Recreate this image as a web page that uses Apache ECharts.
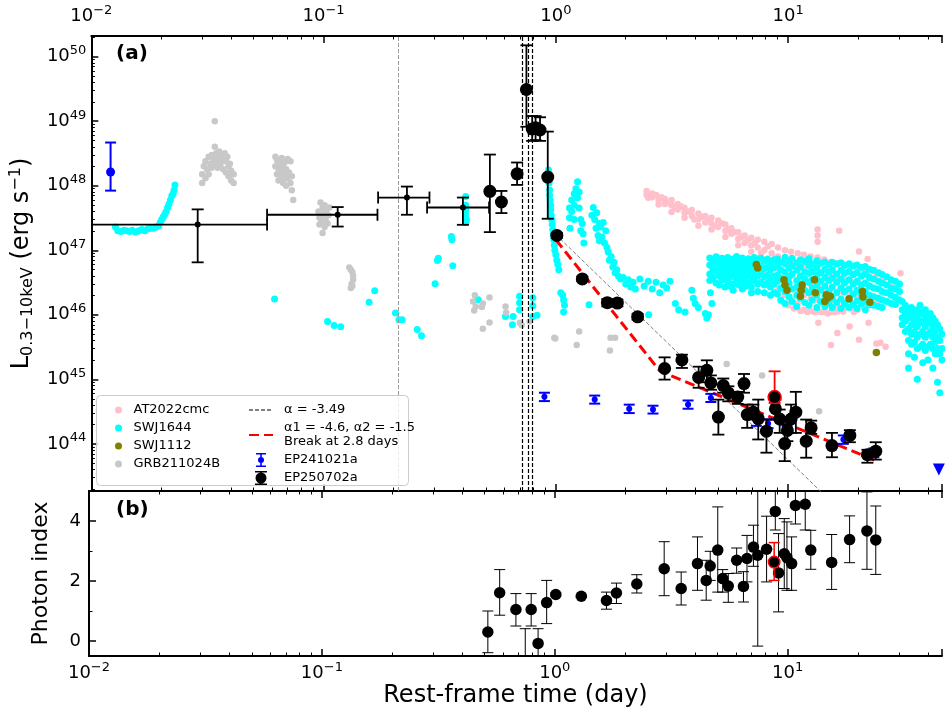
<!DOCTYPE html>
<html><head><meta charset="utf-8">
<script src="https://cdn.jsdelivr.net/npm/echarts@6/dist/echarts.min.js"></script>
<style>html,body{margin:0;padding:0;background:#fff}#c{width:945px;height:712px}</style>
</head><body><div id="c"></div>
<script>
// ---------------- data ----------------
const atCmc = [[2.46,8.3e47],[2.46,7.2e47],[2.5,6.5e47],[2.6,7.6e47],[2.6,6.6e47],[2.7,7.2e47],[2.77,6.0e47],[2.77,5.1e47],[2.85,6.6e47],[2.95,6.2e47],[2.95,5.2e47],[3.05,5.6e47],[3.15,6.0e47],[3.15,5.0e47],[3.15,3.9e47],[3.25,4.6e47],[3.35,5.2e47],[3.35,4.3e47],[3.45,4.8e47],[3.58,4.55e47],[3.58,3.8e47],[3.58,3.2e47],[3.7,4.0e47],[3.85,4.2e47],[3.85,3.4e47],[3.95,3.0e47],[4.11,3.7e47],[4.11,3.0e47],[4.11,2.4e47],[4.25,3.3e47],[4.4,3.4e47],[4.4,2.7e47],[4.55,2.9e47],[4.68,3.2e47],[4.68,2.6e47],[4.68,2.1e47],[4.85,2.4e47],[5.0,2.9e47],[5.0,2.3e47],[5.2,2.6e47],[5.37,2.5e47],[5.37,2.0e47],[5.37,1.6e47],[5.55,2.1e47],[5.7,2.2e47],[5.7,1.8e47],[5.9,1.9e47],[6.1,1.9e47],[6.1,1.5e47],[6.1,1.2e47],[6.3,1.6e47],[6.5,1.7e47],[6.5,1.3e47],[6.7,1.45e47],[6.94,1.56e47],[6.94,1.2e47],[6.94,9.5e46],[7.2,1.3e47],[7.4,1.45e47],[7.4,1.1e47],[7.4,7.5e46],[7.65,9e46],[7.9,1.35e47],[7.9,1.0e47],[7.9,7e46],[7.9,5e46],[8.2,1.15e47],[8.5,1.25e47],[8.5,9e46],[8.5,6e46],[8.5,4e46],[8.8,7.5e46],[9.05,1.1e47],[9.05,8e46],[9.05,5e46],[9.05,3.5e46],[9.05,2.5e46],[9.4,1.6e46],[9.7,1.0e47],[9.7,7e46],[9.7,4.5e46],[9.7,3e46],[9.7,2e46],[10.0,1.4e46],[10.3,9.5e46],[10.3,6.5e46],[10.3,4e46],[10.3,2.5e46],[10.3,1.7e46],[10.6,1.25e46],[11,9e46],[11,6e46],[11,3.5e46],[11,2.2e46],[11,1.5e46],[11.3,1.15e46],[11.7,8.5e46],[11.7,5.5e46],[11.7,3.2e46],[11.7,2e46],[11.7,1.2e46],[12.1,1.1e46],[12.5,8e46],[12.5,5e46],[12.5,3e46],[12.5,1.8e46],[12.5,1.15e46],[13.0,1.1e46],[13.4,7.7e46],[13.4,4.8e46],[13.4,2.8e46],[13.4,1.7e46],[13.4,1.12e46],[13.4,2.1e47],[13.4,1.7e47],[13.4,1.35e47],[13.5,7.5e45],[13.9,1.1e46],[14.3,7.2e46],[14.3,4.5e46],[14.3,2.6e46],[14.3,1.5e46],[14.3,1.1e46],[14.8,1.05e46],[15.3,6.6e46],[15.3,4.2e46],[15.3,2.5e46],[15.3,1.5e46],[15.3,1.1e46],[15.3,3.4e45],[15.8,1.1e46],[16.3,6.3e46],[16.3,4e46],[16.3,2.3e46],[16.3,1.4e46],[16.3,1.12e46],[16.3,5.2e45],[16.6,2.0e47],[17.3,6.0e46],[17.3,3.8e46],[17.3,2.2e46],[17.3,1.3e46],[17.3,1.12e46],[18.4,6.6e45],[18.5,5.6e46],[18.5,3.5e46],[18.5,2e46],[18.5,1.3e46],[19.2,1.1e46],[19.9,5.4e46],[19.9,3.3e46],[19.9,1.9e46],[19.9,1.2e46],[20.2,9.6e46],[20.2,4.1e45],[21.2,5.0e46],[21.2,3e46],[21.2,1.8e46],[21.2,1.3e46],[22,7.3e46],[22.2,7.5e45],[22.6,4.65e46],[22.6,2.8e46],[22.6,1.7e46],[22.6,1.4e46],[24,4.2e46],[24,2.5e46],[24,1.6e46],[24,3.6e45],[25,3.7e45],[25.7,3.5e46],[25.7,2.2e46],[25.7,1.7e46],[26.3,3.2e45],[27.5,3.0e46],[27.5,2.2e46],[29.5,2.9e46],[30.5,4.4e46]];

const swj1644 = [[0.0127,2.3e47],[0.013,2.0e47],[0.0134,1.95e47],[0.0138,2.05e47],[0.0142,2.0e47],[0.0146,1.95e47],[0.015,2.05e47],[0.0155,1.9e47],[0.016,2.0e47],[0.0165,2.1e47],[0.017,2.0e47],[0.0175,2.15e47],[0.018,2.2e47],[0.0185,2.2e47],[0.019,2.3e47],[0.0195,2.4e47],[0.0198,2.7e47],[0.0201,3.0e47],[0.0204,3.3e47],[0.0207,3.6e47],[0.021,4.0e47],[0.0213,4.6e47],[0.0216,5.2e47],[0.0219,6.0e47],[0.0222,7.0e47],[0.0225,7.5e47],[0.0227,8.5e47],[0.0229,1.03e48],
[0.0615,1.76e46],[0.104,7.9e45],[0.111,6.8e45],[0.1185,6.5e45],[0.157,1.56e46],[0.166,2.36e46],[0.204,1.07e46],[0.211,8.4e45],[0.218,8.4e45],[0.253,5.9e45],[0.264,4.75e45],[0.302,3.03e46],[0.309,6.95e46],[0.312,7.5e46],[0.36,5.75e46],[0.355,1.64e47],[0.357,1.45e47],[0.409,6.8e47],[0.409,5.0e47],[0.41,4.2e47],[0.409,3.5e47],[0.412,2.95e47],[0.409,2.7e47],[0.463,1.71e46],[0.698,1.93e46],[0.698,1.54e46],[0.698,1.2e46],[0.655,9.4e45],[0.607,9.4e45],[0.65,7.0e45],[0.796,1.84e46],[0.796,1.38e46],[0.796,9.4e45],[0.83,9.8e45],
[0.93,1.75e48],[0.93,1.4e48],[0.935,1.1e48],[0.94,8.6e47],[0.94,7.2e47],[0.945,6e47],[0.95,5e47],[0.95,4.2e47],[0.955,3.5e47],[0.96,3e47],[0.965,2.5e47],[0.97,2.1e47],[0.975,1.75e47],[0.98,1.45e47],[0.985,1.2e47],[0.99,1.0e47],[1.0,8.5e46],[1.01,7e46],[1.02,6e46],[1.03,5e46],[1.05,2.2e46],[1.07,2.0e46],[1.08,1.7e46],[1.09,1.4e46],[1.08,1.1e46],[1.39,1.43e46],
[1.145,4.5e47],[1.145,3.2e47],[1.15,2.2e47],[1.17,6e47],[1.17,4e47],[1.2,7.5e47],[1.2,5e47],[1.2,3e47],[1.22,9e47],[1.24,1.15e48],[1.24,6.5e47],[1.26,8e47],[1.26,4.5e47],[1.28,3e47],[1.28,2e47],[1.3,2.6e47],[1.31,1.8e47],[1.32,1.3e47],
[1.43,3.5e47],[1.45,4.6e47],[1.47,3.0e47],[1.49,2.2e47],[1.5,3.8e47],[1.52,1.7e47],[1.54,2.6e47],[1.54,1.4e47],
[1.56,2.3e47],[1.58,1.6e47],[1.6,2.7e47],[1.62,1.3e47],[1.64,2.0e47],[1.66,1.1e47],
[1.68,9.5e46],[1.7,7e46],[1.73,8e46],[1.76,5.5e46],[1.78,6.5e46],[1.8,4.5e46],[1.83,5e46],[1.86,4e46],[1.9,3.6e46],
[1.95,3.8e46],[2.0,3.0e46],[2.05,3.5e46],[2.1,2.7e46],[2.15,3.2e46],[2.2,2.5e46],
[2.3,3.6e46],[2.4,2.8e46],[2.5,3.3e46],[2.51,1.0e46],[2.6,2.5e46],[2.7,3.2e46],[2.8,2.2e46],[2.9,2.9e46],[3.0,2.6e46],[3.1,3.3e46],
[3.27,1.5e46],[3.38,1.2e46],[3.6,1.1e46],[3.85,2.4e46],[3.91,1.8e46],[3.98,1.5e46],[4.11,1.3e46],[4.4,1.05e46],[4.47,8.9e45],[4.54,1.0e46],[4.63,2.2e46],[4.7,1.5e46],
[4.6,7.6e46],[4.6,5.9e46],[4.6,4.3e46],[4.6,3.4e46],[4.75,6.8e46],[4.75,5.1e46],[4.75,3.8e46],[4.9,7.9e46],[4.9,6.3e46],[4.9,4.7e46],[4.9,3.1e46],[5.05,7.0e46],[5.05,5.4e46],[5.05,4.0e46],[5.05,2.9e46],[5.2,7.5e46],[5.2,5.7e46],[5.2,4.4e46],[5.2,3.5e46],[5.35,6.5e46],[5.35,4.9e46],[5.35,3.7e46],[5.35,2.7e46],[5.5,7.7e46],[5.5,6.0e46],[5.5,4.6e46],[5.5,3.3e46],[5.65,6.9e46],[5.65,5.2e46],[5.65,3.9e46],[5.65,2.8e46],[5.8,7.3e46],[5.8,5.6e46],[5.8,4.2e46],[5.8,3.0e46],[5.8,2.4e46],[6.0,8.0e46],[6.0,6.2e46],[6.0,4.8e46],[6.0,3.6e46],[6.15,7.0e46],[6.15,5.3e46],[6.15,4.0e46],[6.15,2.9e46],[6.35,7.6e46],[6.35,5.8e46],[6.35,4.4e46],[6.35,3.3e46],[6.35,2.5e46],[6.55,6.8e46],[6.55,5.0e46],[6.55,3.8e46],[6.55,2.8e46],[6.75,7.4e46],[6.75,5.6e46],[6.75,4.2e46],[6.75,3.1e46],[6.95,6.6e46],[6.95,5.1e46],[6.95,3.9e46],[6.95,2.7e46],[6.95,2.2e46],[7.15,7.7e46],[7.15,5.9e46],[7.15,4.5e46],[7.15,3.4e46],[7.4,7.0e46],[7.4,5.3e46],[7.4,4.0e46],[7.4,3.0e46],[7.4,2.3e46],[7.65,7.5e46],[7.65,5.7e46],[7.65,4.3e46],[7.65,3.2e46],[7.9,6.8e46],[7.9,5.2e46],[7.9,3.9e46],[7.9,2.9e46],[7.9,2.2e46],[8.15,7.3e46],[8.15,5.5e46],[8.15,4.1e46],[8.15,3.1e46],[8.4,6.6e46],[8.4,5.0e46],[8.4,3.7e46],[8.4,2.7e46],[8.4,2.0e46],[8.7,7.1e46],[8.7,5.4e46],[8.7,4.0e46],[8.7,3.0e46],[8.7,2.2e46],
[9.0,7.3e46],[9.0,5.9e46],[9.0,4.1e46],[9.0,3.3e46],[9.0,2.1e46],[9.3,6.6e46],[9.3,5.0e46],[9.3,3.7e46],[9.3,2.6e46],[9.3,1.7e46],[9.7,7.8e46],[9.7,6.2e46],[9.7,4.6e46],[9.7,2.9e46],[9.7,2.3e46],[9.7,1.5e46],[10.1,6.9e46],[10.1,5.3e46],[10.1,3.9e46],[10.1,3.1e46],[10.1,1.9e46],[10.4,7.5e46],[10.4,5.7e46],[10.4,4.3e46],[10.4,2.5e46],[10.4,1.6e46],[10.9,6.4e46],[10.9,4.9e46],[10.9,3.4e46],[10.9,2.7e46],[10.9,2.0e46],[10.9,1.35e46],[11.3,7.1e46],[11.3,5.5e46],[11.3,4.0e46],[11.3,3.0e46],[11.3,1.8e46],[11.8,6.7e46],[11.8,4.6e46],[11.8,3.6e46],[11.8,2.4e46],[11.8,1.55e46],[12.3,7.4e46],[12.3,5.8e46],[12.3,4.4e46],[12.3,3.2e46],[12.3,2.2e46],[12.3,1.4e46],[12.7,6.2e46],[12.7,4.7e46],[12.7,3.5e46],[12.7,2.6e46],[12.7,1.7e46],[13.3,6.9e46],[13.3,5.4e46],[13.3,4.1e46],[13.3,2.9e46],[13.3,2.0e46],[13.3,1.3e46],[13.8,6.3e46],[13.8,4.5e46],[13.8,3.3e46],[13.8,2.4e46],[13.8,1.6e46],[14.4,6.6e46],[14.4,5.1e46],[14.4,3.8e46],[14.4,2.8e46],[14.4,1.9e46],[14.4,1.35e46],[15.0,6.0e46],[15.0,4.6e46],[15.0,3.4e46],[15.0,2.3e46],[15.0,1.5e46],[15.5,6.5e46],[15.5,5.0e46],[15.5,3.7e46],[15.5,2.7e46],[15.5,1.8e46],[15.5,1.3e46],[16.2,6.1e46],[16.2,4.3e46],[16.2,3.2e46],[16.2,2.2e46],[16.2,1.55e46],[16.9,6.4e46],[16.9,4.9e46],[16.9,3.6e46],[16.9,2.6e46],[16.9,1.75e46],[16.9,1.25e46],[17.5,5.8e46],[17.5,4.4e46],[17.5,3.1e46],[17.5,2.3e46],[17.5,1.5e46],[18.3,6.2e46],[18.3,4.7e46],[18.3,3.5e46],[18.3,2.5e46],[18.3,1.7e46],[18.3,1.3e46],[19.1,5.7e46],[19.1,4.2e46],[19.1,3.0e46],[19.1,2.1e46],[19.1,1.45e46],[19.8,5.9e46],[19.8,4.5e46],[19.8,3.3e46],[19.8,2.4e46],[19.8,1.65e46],[19.8,1.25e46],[20.7,5.4e46],[20.7,4.0e46],[20.7,2.9e46],[20.7,2.1e46],[20.7,1.5e46],[21.5,5.6e46],[21.5,4.3e46],[21.5,3.1e46],[21.5,2.3e46],[21.5,1.6e46],[21.5,1.2e46],[22.4,5.1e46],[22.4,3.8e46],[22.4,2.8e46],[22.4,2.0e46],[22.4,1.45e46],[23.4,4.9e46],[23.4,3.6e46],[23.4,2.6e46],[23.4,1.9e46],[23.4,1.4e46],[24.5,4.5e46],[24.5,3.3e46],[24.5,2.5e46],[24.5,1.8e46],[24.5,1.35e46],[25.4,4.2e46],[25.4,3.1e46],[25.4,2.3e46],[25.4,1.7e46],[25.4,1.3e46],[26.6,3.9e46],[26.6,2.9e46],[26.6,2.2e46],[26.6,1.6e46],[27.8,3.5e46],[27.8,2.6e46],[27.8,2.0e46],[27.8,1.5e46],[29.0,3.3e46],[29.0,2.5e46],[29.0,1.85e46],[29.0,1.45e46],[30.2,3.0e46],[30.2,2.3e46],[30.2,1.7e46],
[31,1.6e46],[31,1.2e46],[31,9e45],[31,7e45],[32,1.4e46],[32,1.05e46],[32,8e45],[32,5.5e45],[33,1.2e46],[33,9e45],[33,6e45],[33,4e45],[33,2.5e45],[33,1.5e45],[34,1.3e46],[34,1e46],[34,7e45],[34,5e45],[34,3.5e45],[35,1.1e46],[35,8e45],[35,5.5e45],[35,3.8e45],[35,2.2e45],[36,1.2e46],[36,9e45],[36,6.5e45],[36,4.5e45],[36,3e45],[36,1e45],[37,1.4e46],[37,1.05e46],[37,7.5e45],[37,5e45],[37,3.2e45],[38,1.1e46],[38,8e45],[38,5.5e45],[38,3.5e45],[38,1.8e45],[39,1.2e46],[39,9e45],[39,6.5e45],[39,4.5e45],[39,2.8e45],[40,1e46],[40,7.5e45],[40,5e45],[40,3.2e45],[40,2e45],[41,1.05e46],[41,8e45],[41,5.5e45],[41,3.5e45],[42,9e45],[42,6.5e45],[42,4.5e45],[42,3e45],[42,1.5e45],[43,8e45],[43,5.5e45],[43,3.8e45],[43,2.5e45],[44,7e45],[44,4.5e45],[44,3e45],[44,9e44],[45,6e45],[45,4e45],[45,2.5e45],[45,6.2e44],[46,5e45],[46,3e45],[46,2e45]];

const swj1112 = [[7.3,6.0e46],[7.4,5.3e46],[9.6,3.5e46],[9.7,2.9e46],[9.9,2.4e46],[11.5,2.9e46],[11.4,2.4e46],[11.3,1.93e46],[13.0,3.5e46],[13.1,2.2e46],[14.6,2.05e46],[14.8,1.82e46],[14.4,1.61e46],[15.2,1.93e46],[18.3,1.78e46],[20.9,2.3e46],[21.0,1.89e46],[22.5,1.56e46],[24.0,2.6e45]];

const grb211024b = [[0.030,1.1e48],[0.030,1.5e48],[0.0305,2.0e48],[0.031,1.3e48],[0.031,2.4e48],[0.0315,1.8e48],[0.032,2.8e48],[0.032,1.5e48],[0.0325,2.2e48],[0.033,3.0e48],[0.033,1.9e48],[0.0335,2.6e48],[0.034,1.0e49],[0.034,4.0e48],[0.034,2.2e48],[0.0345,3.2e48],[0.035,2.6e48],[0.035,1.9e48],[0.0355,3.4e48],[0.036,2.8e48],[0.036,2.2e48],[0.0365,3.0e48],[0.037,2.5e48],[0.037,1.8e48],[0.0375,3.2e48],[0.038,2.4e48],[0.038,1.6e48],[0.0385,2.8e48],[0.039,2.0e48],[0.039,1.4e48],[0.0395,2.2e48],[0.040,1.7e48],[0.040,1.2e48],[0.041,1.5e48],[0.041,1.1e48],
[0.062,2.8e48],[0.062,2.0e48],[0.063,1.5e48],[0.063,2.5e48],[0.064,1.8e48],[0.064,1.2e48],[0.065,2.2e48],[0.065,1.6e48],[0.066,2.7e48],[0.066,1.3e48],[0.067,1.9e48],[0.067,1.1e48],[0.068,2.3e48],[0.068,1.5e48],[0.069,1.0e48],[0.069,1.8e48],[0.070,2.6e48],[0.070,1.3e48],[0.071,1.6e48],[0.072,2.4e48],[0.072,1.1e48],[0.073,1.4e48],[0.073,8.5e47],[0.074,6.0e47],
[0.095,4.0e47],[0.096,3.2e47],[0.097,5.5e47],[0.098,2.8e47],[0.099,4.5e47],[0.099,1.85e47],[0.100,3.6e47],[0.101,5.0e47],[0.102,3.0e47],[0.103,4.2e47],[0.104,2.6e47],[0.105,3.5e47],[0.106,4.6e47],[0.096,2.5e47],[0.101,2.3e47],
[0.129,5.4e46],[0.131,5.0e46],[0.133,4.6e46],[0.134,4.0e46],[0.134,3.5e46],[0.132,3.0e46],[0.131,2.6e46],[0.133,2.8e46],
[0.448,2.0e46],[0.44,1.6e46],[0.452,1.35e46],[0.445,1.17e46],[0.485,1.5e46],[0.48,1.32e46],[0.518,1.86e46],[0.607,1.35e46],[0.611,1.09e46],[0.518,7.6e45],[0.485,6.1e45],[0.70,7.5e45],[0.77,7.9e45],[0.713,6.9e45],[0.985,4.4e45],
[0.995,4.3e45],[1.26,5.5e45],[1.23,3.4e45],[1.72,4.4e45],[1.80,4.4e45],[1.71,2.8e45],[5.44,1.73e45],[7.73,1.15e45],[13.6,3.2e44]];

// EP241021a: [t, L, Llow, Lhigh]
const ep241021a = [[0.0121,1.63e48,8.4e47,4.67e48],[0.893,5.35e44,4.6e44,6.2e44],[1.47,4.85e44,4.2e44,5.6e44],[2.07,3.5e44,3.0e44,4.05e44],[2.62,3.4e44,2.95e44,3.9e44],[3.71,4.06e44,3.5e44,4.7e44],[4.65,5.15e44,4.45e44,5.95e44],[7.3,2.24e44,1.9e44,2.6e44],[8.2,2.06e44,1.75e44,2.4e44],[9.9,2.24e44,1.9e44,2.6e44],[17.3,1.17e44,1.0e44,1.35e44],[23.4,7.3e43,6.2e43,8.5e43]];
const ep241021aUpper = [[44.6,4.0e43]];

// EP250702a binned early points: [t, L, Llow, Lhigh, tlow, thigh]
const ep250702aBinned = [[0.0287,2.5e47,6.5e46,4.3e47,0.0003,0.0571],[0.115,3.55e47,2.33e47,4.67e47,0.0571,0.1706],[0.2285,6.56e47,3.55e47,9.7e47,0.1717,0.2857],[0.398,4.6e47,2.48e47,6.56e47,0.279,0.516]];
// EP250702a: [t, L, Llow, Lhigh]
const ep250702a = [[0.520,8.2e47,1.91e47,3.04e48],[0.583,5.6e47,3.77e47,8.3e47],[0.681,1.53e48,1.03e48,2.29e48],[0.747,3.1e49,8.2e48,1.5e50],[0.791,7.6e48,4.95e48,1.2e49],[0.818,7.9e48,5.1e48,1.2e49],[0.855,7.3e48,4.95e48,1.15e49],[0.923,1.36e48,3.08e47,6.9e48],[1.01,1.7e47,1.55e47,1.85e47],[1.30,3.6e46,3.3e46,3.9e46],[1.667,1.54e46,1.35e46,1.75e46],[1.84,1.52e46,1.35e46,1.72e46],[2.25,9.3e45,8.4e45,1.03e46],[2.94,1.47e45,9.9e44,2.19e45],[3.49,2.0e45,1.5e45,2.41e45],[4.12,1.07e45,7.4e44,1.57e45],[4.47,1.38e45,9.0e44,1.97e45],[4.65,8.8e44,6.9e44,1.15e45],[5.01,2.6e44,1.39e44,4.85e44],[5.26,8.0e44,6.2e44,1.03e45],[5.53,6.15e44,4.56e44,7.8e44],[6.07,5.3e44,4.16e44,6.4e44],[6.46,8.6e44,6.2e44,1.21e45],[6.67,2.84e44,1.77e44,4.06e44],[7.08,3.1e44,2.38e44,4.06e44],[7.44,2.46e44,1.17e44,4.85e44],[8.07,1.57e44,7.3e43,2.38e44],[8.82,3.5e44,2.38e44,4.85e44],[9.2,2.43e44,1.48e44,3.4e44],[9.67,1.01e44,5.4e43,1.99e44],[9.93,1.61e44,1.1e44,2.38e44],[10.3,2.43e44,1.48e44,4.06e44],[10.8,3.1e44,1.48e44,6.4e44],[11.97,1.1e44,6.1e43,2.38e44],[12.57,1.77e44,1.43e44,2.29e44],[15.45,9.4e43,6.2e43,1.48e44],[18.45,1.35e44,1.06e44,1.63e44],[21.96,6.8e43,5.1e43,8.1e43],[23.85,7.7e43,5.7e43,1.06e44]];
const ep250702aRed = [[8.75,5.3e44,4.3e44,1.33e45]];

// photon index: [t, Gamma, low, high]
const photonIndex = [[0.516,0.30,-0.39,1.0],[0.580,1.61,0.86,2.38],[0.681,1.05,0.50,1.58],[0.747,-0.9,-1.5,0.41],[0.792,1.05,0.50,1.58],[0.848,-0.08,-0.6,0.41],[0.923,1.28,0.58,2.02],[1.01,1.55,1.5,1.6],[1.30,1.49,1.45,1.53],[1.667,1.35,1.06,1.63],[1.84,1.60,1.25,1.93],[2.25,1.90,1.60,2.21],[2.95,2.41,1.51,3.31],[3.49,1.75,1.20,2.30],[4.10,2.58,1.69,3.47],[4.47,2.02,1.36,2.69],[4.65,2.50,2.02,2.99],[5.01,3.03,1.63,4.47],[5.26,2.08,1.63,2.38],[5.56,1.83,1.29,2.25],[6.04,2.69,2.26,3.10],[6.46,1.82,1.30,2.31],[6.69,2.75,1.97,3.52],[7.13,3.13,2.49,3.86],[7.44,2.86,-0.17,5.5],[8.12,3.06,1.97,4.16],[8.85,4.32,3.7,5.5],[9.14,2.27,0.97,3.58],[9.67,2.91,1.75,4.08],[9.93,2.78,1.69,3.97],[10.4,2.58,1.69,3.47],[10.8,4.52,3.9,5.4],[11.9,4.56,3.7,5.4],[12.57,3.03,2.39,3.69],[15.45,2.62,1.72,3.55],[18.45,3.38,2.61,4.17],[21.9,3.67,2.39,4.97],[23.9,3.37,2.22,4.50]];
const photonIndexRed = [[8.75,2.63,2.02,3.28]];

// fitted models
const fitSinglePL = [[1.0,1.75e47],[14,1.75e43]];
const fitBrokenPL = [[1.0,1.46e47],[2.8,1.35e45],[23.5,5.6e43]];
const blackVLines = [0.723,0.76,0.794];
const grayVLines = [0.21];

// axis ranges
const X_MIN = 0.01, X_MAX = 46, YA_MIN = 1.86e43, YA_MAX = 2.09e50, YB_MIN = -0.5, YB_MAX = 5;

// ---------------- chart ----------------
const FONT = 'DejaVu Sans';
const RICH = {
  b: {fontSize: 18, fontFamily: FONT, color: '#000'},
  s: {fontSize: 13, fontFamily: FONT, color: '#000', padding: [0, 0, 12, 0]}
};
function powFmt(v) {
  const e = Math.log10(v), r = Math.round(e);
  if (Math.abs(e - r) > 1e-6) return '';
  return '{b|10}{s|' + (r < 0 ? '\u2212' + (-r) : r) + '}';
}
function xa(grid, pos, labels, extra) {
  return Object.assign({
    type: 'log', logBase: 10, gridIndex: grid, position: pos, min: X_MIN, max: X_MAX,
    axisLine: {show: true, onZero: false, lineStyle: {color: '#000', width: 2}},
    axisTick: {show: true, inside: true, length: 7, lineStyle: {color: '#000', width: 1.5}},
    minorTick: {show: true, splitNumber: 9, length: 3.5, lineStyle: {color: '#000', width: 1}},
    splitLine: {show: false}, minorSplitLine: {show: false},
    axisLabel: {show: labels, formatter: powFmt, rich: RICH, margin: pos === 'top' ? 7 : 5}
  }, extra || {});
}
function errRender(opt) {
  return function (params, api) {
    const cs = params.coordSys;
    const L = cs.x, R = cs.x + cs.width, T = cs.y, B = cs.y + cs.height;
    const t = api.value(0), y = api.value(1), lo = api.value(2), hi = api.value(3);
    const ch = [];
    const mk = (x1, y1, x2, y2) => ch.push({type: 'line', shape: {x1, y1, x2, y2}, style: {stroke: opt.color, lineWidth: opt.lw}});
    const a = api.coord([t, hi]), b = api.coord([t, lo]);
    const x = a[0], hw = opt.cap / 2;
    if (x >= L - 0.5 && x <= R + 0.5) {
      const y1 = Math.max(T, a[1]), y2 = Math.min(B, b[1]);
      if (y2 > y1) mk(x, y1, x, y2);
      if (a[1] >= T && a[1] <= B) mk(x - hw, a[1], x + hw, a[1]);
      if (b[1] >= T && b[1] <= B) mk(x - hw, b[1], x + hw, b[1]);
    }
    if (opt.xerr) {
      const p = api.coord([api.value(4), y]), q = api.coord([api.value(5), y]);
      const x1 = Math.max(L, p[0]), x2 = Math.min(R, q[0]);
      if (x2 > x1) mk(x1, p[1], x2, p[1]);
      if (p[0] >= L && p[0] <= R) mk(p[0], p[1] - hw, p[0], p[1] + hw);
      if (q[0] >= L && q[0] <= R) mk(q[0], q[1] - hw, q[0], q[1] + hw);
    }
    return {type: 'group', children: ch};
  };
}
function errSeries(name, data, xi, yi, opt, z) {
  return {name, type: 'custom', xAxisIndex: xi, yAxisIndex: yi, data, clip: true, silent: true, z,
    encode: {x: 0, y: 1}, renderItem: errRender(opt), itemStyle: {color: opt.color}};
}
function sc(name, data, xi, yi, size, color, z, extra) {
  return Object.assign({name, type: 'scatter', xAxisIndex: xi, yAxisIndex: yi, data: data.map(d => [d[0], d[1]]),
    symbol: 'circle', symbolSize: size, itemStyle: {color, opacity: 1}, silent: true, z, clip: true}, extra || {});
}
const BLUE_ICON = 'path://M2,0H12V1.6H2Z M6.2,0H7.8V14H6.2Z M2,12.4H12V14H2Z M4,7A3,3 0 1,1 10,7A3,3 0 1,1 4,7Z';
const BLACK_ICON = 'path://M1,0H13V1.6H1Z M6.2,0H7.8V14H6.2Z M1,12.4H13V14H1Z M1.5,7A5.5,5.5 0 1,1 12.5,7A5.5,5.5 0 1,1 1.5,7Z';
const BROKEN_NAME = 'α1 = -4.6, α2 = -1.5\nBreak at 2.8 days';
const NO_SYMBOL = {color: 'rgba(0,0,0,0)', borderWidth: 0, borderColor: 'rgba(0,0,0,0)'};

const option = {
  animation: false,
  backgroundColor: '#fff',
  textStyle: {fontFamily: FONT},
  grid: [
    {left: 89, top: 36, width: 856, height: 455},
    {left: 89, top: 491, width: 856, height: 165}
  ],
  xAxis: [
    xa(0, 'bottom', false),
    xa(0, 'top', true),
    xa(1, 'bottom', true, {name: 'Rest-frame time (day)', nameLocation: 'middle', nameGap: 26,
      nameTextStyle: {fontSize: 24, color: '#000', fontFamily: FONT}}),
    xa(1, 'top', false)
  ],
  yAxis: [
    {type: 'log', logBase: 10, gridIndex: 0, min: YA_MIN, max: YA_MAX, position: 'left',
      axisLine: {show: true, onZero: false, lineStyle: {color: '#000', width: 2}},
      axisTick: {show: true, inside: true, length: 7, lineStyle: {color: '#000', width: 1.5}},
      minorTick: {show: true, splitNumber: 9, length: 3.5, lineStyle: {color: '#000', width: 1}},
      splitLine: {show: false}, minorSplitLine: {show: false},
      axisLabel: {formatter: powFmt, rich: RICH, margin: 5},
      name: '{m|L}{sub|0.3\u221210keV}{m| (erg s}{sup|\u22121}{m|)}', nameLocation: 'middle', nameRotate: 90, nameGap: 49,
      nameTextStyle: {rich: {
        m: {fontSize: 24, fontFamily: FONT, color: '#000'},
        sub: {fontSize: 16, fontFamily: FONT, color: '#000', padding: [12, 0, 0, 0]},
        sup: {fontSize: 16, fontFamily: FONT, color: '#000', padding: [0, 0, 12, 0]}
      }}},
    {type: 'value', gridIndex: 1, min: YB_MIN, max: YB_MAX, splitNumber: 3, position: 'left',
      axisLine: {show: true, onZero: false, lineStyle: {color: '#000', width: 2}},
      axisTick: {show: true, inside: true, length: 7, lineStyle: {color: '#000', width: 1.5}},
      minorTick: {show: true, splitNumber: 2, length: 3.5, lineStyle: {color: '#000', width: 1}},
      splitLine: {show: false},
      axisLabel: {fontSize: 18, color: '#000', margin: 8, formatter: v => (v === 0 || v === 2 || v === 4) ? String(v) : ''},
      name: 'Photon index', nameLocation: 'middle', nameRotate: 90, nameGap: 37,
      nameTextStyle: {fontSize: 22, color: '#000', fontFamily: FONT}}
  ],
  legend: [
    {left: 110, top: 398, orient: 'vertical', itemWidth: 10, itemHeight: 7, itemGap: 4, selectedMode: false, z: 100,
      textStyle: {fontSize: 13, lineHeight: 14, color: '#000', fontFamily: FONT, padding: [0, 0, 0, 5]},
      data: [{name: 'AT2022cmc', icon: 'circle'}, {name: 'SWJ1644', icon: 'circle'}, {name: 'SWJ1112', icon: 'circle'}, {name: 'GRB211024B', icon: 'circle'}]},
    {left: 243, top: 398, orient: 'vertical', itemWidth: 24, itemHeight: 14, itemGap: 4, selectedMode: false, z: 100,
      textStyle: {fontSize: 13, lineHeight: 14, color: '#000', fontFamily: FONT, padding: [0, 0, 0, 6]},
      data: [{name: 'α = -3.49', itemStyle: NO_SYMBOL}, {name: BROKEN_NAME, itemStyle: NO_SYMBOL},
        {name: 'EP241021a', icon: BLUE_ICON}, {name: 'EP250702a', icon: BLACK_ICON}]}
  ],
  graphic: [
    {type: 'rect', left: 96, top: 395, z: 90, shape: {width: 312, height: 90, r: 4},
      style: {fill: 'rgba(255,255,255,0.8)', stroke: '#cccccc', lineWidth: 1}},
    {type: 'text', left: 116, top: 44, z: 100, style: {text: '(a)', fontSize: 20, fontWeight: 'bold', fontFamily: FONT, fill: '#000'}},
    {type: 'text', left: 116, top: 500, z: 100, style: {text: '(b)', fontSize: 20, fontWeight: 'bold', fontFamily: FONT, fill: '#000'}}
  ],
  series: [
    sc('AT2022cmc', atCmc, 0, 0, 6.5, '#ffc0cb', 2),
    sc('SWJ1644', swj1644, 0, 0, 7, '#00ffff', 3),
    sc('GRB211024B', grb211024b, 0, 0, 6.5, '#c8c8c8', 4),
    sc('SWJ1112', swj1112, 0, 0, 7.5, '#808000', 5),
    {name: 'vlines', type: 'line', xAxisIndex: 0, yAxisIndex: 0, data: [], silent: true, z: 6,
      markLine: {silent: true, symbol: ['none', 'none'], label: {show: false}, animation: false,
        data: blackVLines.map(v => ({xAxis: v, lineStyle: {color: '#000', type: [4, 2], width: 1.2}}))
          .concat(grayVLines.map(v => ({xAxis: v, lineStyle: {color: '#9a9a9a', type: [4, 2], width: 1}})))}},
    {name: 'α = -3.49', type: 'line', xAxisIndex: 0, yAxisIndex: 0, data: fitSinglePL, symbol: 'none', silent: true, z: 6,
      itemStyle: {color: '#808080'}, lineStyle: {color: '#808080', width: 1, type: [4, 2]}},
    {name: BROKEN_NAME, type: 'line', xAxisIndex: 0, yAxisIndex: 0, data: fitBrokenPL, symbol: 'none', silent: true, z: 6,
      itemStyle: {color: '#ff0000'}, lineStyle: {color: '#ff0000', width: 3, type: [10, 5]}},
    errSeries('EP241021a err', ep241021a, 0, 0, {color: '#0000ff', lw: 2, cap: 11}, 7),
    sc('EP241021a', ep241021a, 0, 0, (v, p) => p.dataIndex === 0 ? 9 : 6, '#0000ff', 8),
    sc('EP241021a UL', ep241021aUpper, 0, 0, 12, '#0000ff', 8, {symbol: 'triangle', symbolRotate: 180}),
    errSeries('EP250702a binned err', ep250702aBinned, 0, 0, {color: '#000', lw: 1.8, cap: 12, xerr: true}, 9),
    errSeries('EP250702a err', ep250702a, 0, 0, {color: '#000', lw: 1.8, cap: 12}, 9),
    sc('EP250702a binned', ep250702aBinned, 0, 0, 6, '#000', 10),
    sc('EP250702a', ep250702a, 0, 0, 13, '#000', 10),
    errSeries('EP250702a red err', ep250702aRed, 0, 0, {color: '#ff0000', lw: 1.8, cap: 12}, 11),
    sc('EP250702a red', ep250702aRed, 0, 0, 13, '#000', 12, {itemStyle: {color: '#000', borderColor: '#ff0000', borderWidth: 1.5, opacity: 1}}),
    errSeries('Photon index err', photonIndex, 2, 1, {color: '#000', lw: 1, cap: 11}, 9),
    sc('Photon index', photonIndex, 2, 1, 11.5, '#000', 10),
    errSeries('Photon index red err', photonIndexRed, 2, 1, {color: '#ff0000', lw: 1.5, cap: 11}, 11),
    sc('Photon index red', photonIndexRed, 2, 1, 11.5, '#000', 12, {itemStyle: {color: '#000', borderColor: '#ff0000', borderWidth: 1.5, opacity: 1}})
  ]
};
const chart = echarts.init(document.getElementById('c'), null, {renderer: 'canvas'});
chart.setOption(option);
</script></body></html>
